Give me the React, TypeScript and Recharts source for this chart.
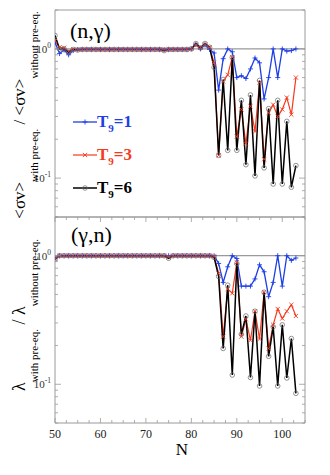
import { LineChart, Line, XAxis, YAxis, ReferenceLine, ReferenceArea, Legend } from 'recharts';

// neutron number N
const nValues = [
  50, 51, 52, 53, 54, 55, 56, 57, 58, 59, 60, 61, 62, 63, 64, 65, 66, 67, 68, 69,
  70, 71, 72, 73, 74, 75, 76, 77, 78, 79, 80, 81, 82, 83, 84, 85, 86, 87, 88, 89,
  90, 91, 92, 93, 94, 95, 96, 97, 98, 99, 100, 101, 102, 103,
];

// (n,gamma): <sv> with / without pre-eq.
const ngT1 = [
  1.12, 0.92, 0.98, 0.9, 0.97, 0.99,
  0.99, 0.99, 0.99, 0.99, 0.99, 0.99, 0.99, 0.99, 0.99, 0.99,
  0.99, 0.99, 0.99, 0.99, 0.99, 0.99, 0.99, 0.99, 0.99, 0.99,
  0.99, 0.99, 0.99, 0.99, 1.0,
  1.08, 1.0, 1.07, 0.99, 0.93, 0.48, 0.84, 1.0, 0.95, 0.6,
  0.62, 0.59, 0.7, 0.85, 0.78, 0.41, 0.6, 1.0, 0.6, 1.0,
  0.96, 0.97, 1.0,
];
const ngT3 = [
  1.15, 1.03, 1.02, 0.96, 0.99, 0.99,
  0.99, 0.99, 0.99, 0.99, 0.99, 0.99, 0.99, 0.99, 0.99, 0.99,
  0.99, 0.99, 0.99, 0.99, 0.99, 0.99, 0.99, 0.99, 0.99, 0.99,
  0.99, 0.99, 0.99, 0.99, 1.0,
  1.07, 1.02, 1.08, 1.03, 0.78, 0.15, 0.56, 0.63, 0.86, 0.21,
  0.34, 0.185, 0.36, 0.23, 0.55, 0.14, 0.32, 0.37, 0.3, 0.34,
  0.42, 0.31, 0.6,
];
const ngT6 = [
  1.27, 1.0, 1.0, 0.94, 0.99, 0.98,
  0.99, 0.99, 0.99, 0.99, 0.99, 0.99, 0.99, 0.99, 0.99, 0.99,
  0.99, 0.99, 0.99, 0.99, 0.99, 0.99, 0.99, 0.99, 0.97, 0.99,
  0.99, 0.99, 0.99, 0.99, 1.0,
  1.1, 1.02, 1.1, 1.03, 0.72, 0.15, 0.58, 0.164, 0.86, 0.164,
  0.4, 0.127, 0.44, 0.104, 0.57, 0.12, 0.345, 0.09, 0.4, 0.09,
  0.275, 0.085, 0.125,
];

// (gamma,n): lambda with / without pre-eq.
const gnT1 = [
  0.96, 1.0, 1.0, 1.0, 1.0, 1.0,
  1.0, 1.0, 1.0, 1.0, 1.0, 1.0, 1.0, 1.0, 1.0, 1.0,
  1.0, 1.0, 1.0, 1.0, 1.0, 1.0, 1.0, 1.0, 1.0, 1.0,
  1.0, 1.0, 1.0, 1.0, 1.0,
  1.0, 1.0, 1.0, 1.0, 1.0, 0.87, 0.62, 0.82, 1.0, 0.95,
  0.58, 0.58, 0.58, 0.66, 0.85, 0.75, 0.48, 0.62, 1.0, 0.58,
  1.0, 0.92, 0.96,
];
const gnT3 = [
  0.95, 1.0, 1.0, 1.0, 1.0, 1.0,
  1.0, 1.0, 1.0, 1.0, 1.0, 1.0, 1.0, 1.0, 1.0, 1.0,
  1.0, 1.0, 1.0, 1.0, 1.0, 1.0, 1.0, 1.0, 1.0, 0.98,
  1.0, 1.0, 1.0, 1.0, 1.0,
  1.0, 1.0, 1.0, 1.0, 0.99, 0.73, 0.235, 0.55, 0.51, 0.89,
  0.235, 0.32, 0.22, 0.37, 0.225, 0.52, 0.19, 0.29, 0.385, 0.325,
  0.37, 0.415, 0.34,
];
const gnT6 = [
  0.94, 1.0, 1.0, 1.0, 1.0, 1.0,
  1.0, 1.0, 1.0, 1.0, 1.0, 1.0, 1.0, 1.0, 1.0, 1.0,
  1.0, 1.0, 1.0, 1.0, 1.0, 1.0, 1.0, 1.0, 1.0, 0.955,
  1.0, 1.0, 1.0, 1.0, 1.0,
  1.0, 1.0, 1.0, 1.0, 0.97, 0.69, 0.19, 0.59, 0.118, 0.87,
  0.245, 0.34, 0.113, 0.37, 0.097, 0.52, 0.165, 0.28, 0.097, 0.29,
  0.112, 0.227, 0.085,
];

const xTicks = [
  50, 52.5, 55, 57.5, 60, 62.5, 65, 67.5, 70, 72.5, 75, 77.5, 80, 82.5, 85, 87.5,
  90, 92.5, 95, 97.5, 100, 102.5, 105,
];
const xLabelTicks = [50, 60, 70, 80, 90, 100];
const yTicks = [0.05, 0.06, 0.07, 0.08, 0.09, 0.1, 0.2, 0.3, 0.4, 0.5, 0.6, 0.7, 0.8, 0.9, 1, 2];
const yDecades = [1, 0.1];

const series = [
  { key: 't1', temp: '1', color: '#1e3fe6', marker: 'plus', width: 1.3 },
  { key: 't3', temp: '3', color: '#f53a1e', marker: 'cross', width: 1.2 },
  { key: 't6', temp: '6', color: '#000000', marker: 'circle', width: 1.5 },
];

const SERIF = "'Liberation Serif', 'Times New Roman', 'DejaVu Serif', serif";
const FRAME = '#9a9a9a';
const PL = 55;
const PR = 305;

const ngData = nValues.map((n, i) => ({ n, t1: ngT1[i], t3: ngT3[i], t6: ngT6[i] }));
const gnData = nValues.map((n, i) => ({ n, t1: gnT1[i], t3: gnT3[i], t6: gnT6[i] }));

function Marker({ kind, color, x, y }: any) {
  if (kind === 'plus') {
    return (
      <g stroke={color} strokeWidth={0.9}>
        <line x1={x - 2.5} x2={x + 2.5} y1={y} y2={y} />
        <line x1={x} x2={x} y1={y - 2.5} y2={y + 2.5} />
      </g>
    );
  }
  if (kind === 'cross') {
    return (
      <g stroke={color} strokeWidth={0.9}>
        <line x1={x - 2.1} x2={x + 2.1} y1={y - 2.1} y2={y + 2.1} />
        <line x1={x - 2.1} x2={x + 2.1} y1={y + 2.1} y2={y - 2.1} />
      </g>
    );
  }
  return <circle cx={x} cy={y} r={2.3} fill="none" stroke="#666" strokeWidth={0.7} />;
}

const markerDot = (kind: string, color: string) => (p: any) => {
  const { cx, cy, index } = p;
  if (cx == null || cy == null) return <g key={`m-${index}`} />;
  return <Marker key={`m-${index}`} kind={kind} color={color} x={cx} y={cy} />;
};

function YTick({ y, payload }: any) {
  const v = payload.value;
  const major = yDecades.includes(v);
  const len = major ? 6 : 3;
  return (
    <g>
      <line x1={PL} x2={PL + len} y1={y} y2={y} stroke={FRAME} strokeWidth={0.8} />
      <line x1={PR - len} x2={PR} y1={y} y2={y} stroke={FRAME} strokeWidth={0.8} />
      {major && (
        <text x={PL - 4} y={y + 4} textAnchor="end" fontSize={11} fontFamily={SERIF} fill="#333">
          10
          <tspan dy={-5} fontSize={7.5}>{v === 1 ? '0' : '-1'}</tspan>
        </text>
      )}
    </g>
  );
}

function XTick({ x, payload, top, bottom, labels }: any) {
  const v = payload.value;
  const major = v % 10 === 0;
  const len = major ? 5 : 3;
  return (
    <g>
      <line x1={x} x2={x} y1={bottom} y2={bottom - len} stroke={FRAME} strokeWidth={0.8} />
      <line x1={x} x2={x} y1={top} y2={top + len} stroke={FRAME} strokeWidth={0.8} />
      {labels && xLabelTicks.includes(v) && (
        <text x={x} y={bottom + 15} textAnchor="middle" fontSize={12} fontFamily={SERIF} fill="#222">
          {v}
        </text>
      )}
    </g>
  );
}

function LegendBox() {
  return (
    <div style={{ fontFamily: SERIF }}>
      {series.map((s) => (
        <div key={s.key} style={{ display: 'flex', alignItems: 'center', height: 33 }}>
          <svg width={24} height={12} style={{ display: 'block' }}>
            <line x1={0} x2={24} y1={6} y2={6} stroke={s.color} strokeWidth={s.width} />
            <Marker kind={s.marker} color={s.marker === 'circle' ? '#000' : s.color} x={12} y={6} />
          </svg>
          <span style={{ color: s.color, fontWeight: 'bold', fontSize: 17, lineHeight: '17px' }}>
            T<span style={{ fontSize: 11, position: 'relative', top: 5 }}>9</span>={s.temp}
          </span>
        </div>
      ))}
    </div>
  );
}

function Panel({ data, height, margin, top, bottom, labels, legend }: any) {
  return (
    <LineChart width={330} height={height} data={data} margin={margin}>
      <XAxis
        dataKey="n"
        type="number"
        domain={[50, 105]}
        ticks={xTicks}
        interval={0}
        allowDataOverflow
        height={labels ? 30 : 0}
        axisLine={false}
        tickLine={false}
        tick={(p: any) => <XTick {...p} top={top} bottom={bottom} labels={labels} />}
      />
      <YAxis
        type="number"
        scale="log"
        domain={[0.05, 2]}
        ticks={yTicks}
        interval={0}
        allowDataOverflow
        width={45}
        axisLine={false}
        tickLine={false}
        tick={(p: any) => <YTick {...p} />}
      />
      <ReferenceArea x1={50} x2={105} y1={0.05} y2={2} fill="none" stroke={FRAME} strokeWidth={1} />
      <ReferenceLine y={1} stroke="#808080" strokeWidth={1} />
      {series.map((s) => (
        <Line
          key={s.key}
          dataKey={s.key}
          type="linear"
          stroke={s.color}
          strokeWidth={s.width}
          dot={markerDot(s.marker, s.color)}
          activeDot={false}
          isAnimationActive={false}
        />
      ))}
      {legend && (
        <Legend
          layout="vertical"
          align="center"
          verticalAlign="middle"
          content={() => <LegendBox />}
          wrapperStyle={{ left: 73, top: 105.5, width: 120, height: 100 }}
        />
      )}
    </LineChart>
  );
}

export default function App() {
  return (
    <div style={{ position: 'absolute', left: 0, top: 0, width: 330, height: 475, background: '#fff', fontFamily: SERIF }}>
      <div style={{ position: 'absolute', left: 0, top: 0 }}>
        <Panel
          data={ngData}
          height={222}
          margin={{ top: 10, right: 25, bottom: 5, left: 10 }}
          top={10}
          bottom={217}
          labels={false}
          legend
        />
      </div>
      <div style={{ position: 'absolute', left: 0, top: 212 }}>
        <Panel
          data={gnData}
          height={263}
          margin={{ top: 5, right: 25, bottom: 22, left: 10 }}
          top={5}
          bottom={211}
          labels
          legend={false}
        />
      </div>
      <svg width={330} height={475} style={{ position: 'absolute', left: 0, top: 0, pointerEvents: 'none' }}>
        <g fontFamily={SERIF} fill="#000">
          <text x={70} y={38} fontSize={22}>(n,γ)</text>
          <text x={71} y={242} fontSize={22}>(γ,n)</text>
          <text transform="translate(25,115) rotate(-90)" textAnchor="middle" fontSize={17}>
            <tspan>{'<σv>'}</tspan>
            <tspan fontSize={11} dy={13}>with pre-eq.</tspan>
            <tspan dy={-13}>{' / '}</tspan>
            <tspan>{'<σv>'}</tspan>
            <tspan fontSize={11} dy={13}>without pre-eq.</tspan>
          </text>
          <text transform="translate(25,315) rotate(-90)" textAnchor="middle" fontSize={18}>
            <tspan>λ</tspan>
            <tspan fontSize={11} dy={13}>with pre-eq.</tspan>
            <tspan dy={-13}>{' / '}</tspan>
            <tspan>λ</tspan>
            <tspan fontSize={11} dy={13}>without pre-eq.</tspan>
          </text>
          <text x={182} y={455} fontSize={17} textAnchor="middle">N</text>
        </g>
      </svg>
    </div>
  );
}
